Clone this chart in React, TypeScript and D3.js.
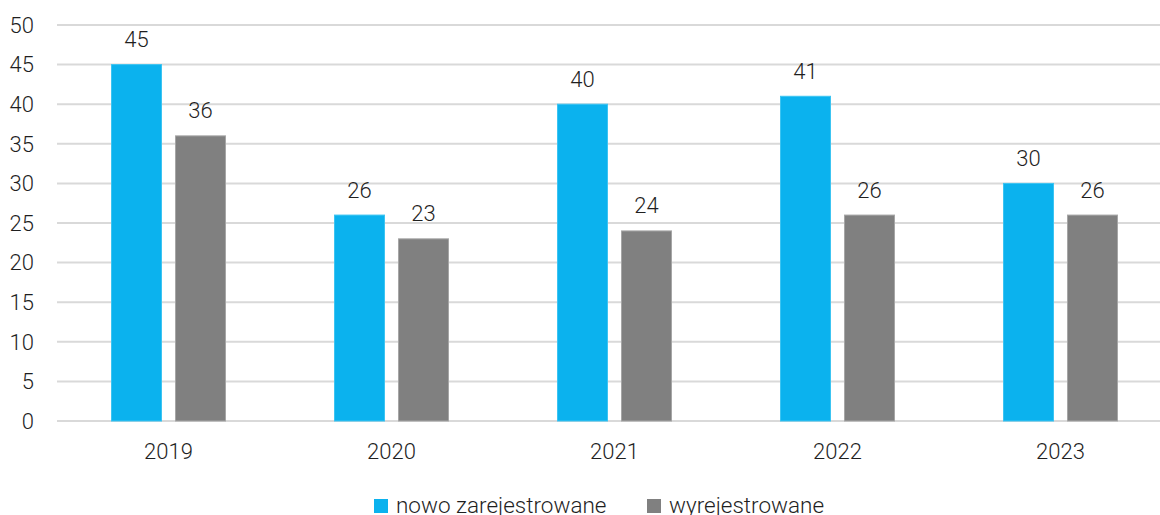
import React from "react";
import * as d3 from "d3";

const years = ["2019", "2020", "2021", "2022", "2023"];
const seriesNames = ["nowo zarejestrowane", "wyrejestrowane"];
const nowoZarejestrowane = [45, 26, 40, 41, 30];
const wyrejestrowane = [36, 23, 24, 26, 26];
const yTicks = [0, 5, 10, 15, 20, 25, 30, 35, 40, 45, 50];
const colors = ["#0BB2EE", "#808080"];
const strokes = ["#3cc4f2", "#a6a6a6"];

const W = 1160;
const H = 515;
const FONT = "Roboto, 'Liberation Sans', sans-serif";
const TXT = "#1f1f1f";

export default function App() {
  const y = d3.scaleLinear().domain([0, 50]).range([421, 25]);
  const x0 = d3.scaleBand<string>().domain(years).range([57, 1172]).padding(0);
  const inner = 114;
  const x1 = d3
    .scaleBand<string>()
    .domain(seriesNames)
    .range([0, inner])
    .paddingInner(14 / 64)
    .paddingOuter(0);
  const offset = (x0.bandwidth() - inner) / 2;
  const values = [nowoZarejestrowane, wyrejestrowane];

  return (
    <svg
      width={W}
      height={H}
      style={{ position: "absolute", left: 0, top: 0, background: "#fff" }}
      fontFamily={FONT}
    >
      {yTicks.map((t) => (
        <g key={t}>
          <line x1={57} x2={W} y1={y(t)} y2={y(t)} stroke="#d9d9d9" strokeWidth={2} />
          <text
            x={34}
            y={y(t) + 7.7}
            textAnchor="end"
            fontSize={22}
            fontWeight={300}
            fill={TXT}
          >
            {t}
          </text>
        </g>
      ))}
      {years.map((yr, i) => (
        <g key={yr} transform={`translate(${x0(yr)! + offset},0)`}>
          {seriesNames.map((s, j) => {
            const v = values[j][i];
            const bx = x1(s)!;
            return (
              <g key={s}>
                <rect
                  x={bx}
                  y={y(v)}
                  width={x1.bandwidth()}
                  height={y(0) - y(v)}
                  fill={colors[j]}
                  stroke={strokes[j]}
                  strokeWidth={1}
                />
                <text
                  x={bx + x1.bandwidth() / 2}
                  y={y(v) - 17.5}
                  textAnchor="middle"
                  fontSize={22}
                  fontWeight={300}
                  fill={TXT}
                >
                  {v}
                </text>
              </g>
            );
          })}
          <text
            x={inner / 2}
            y={459}
            textAnchor="middle"
            fontSize={22}
            fontWeight={300}
            fill={TXT}
          >
            {yr}
          </text>
        </g>
      ))}
      {seriesNames.map((s, j) => {
        const lx = [374, 647][j];
        return (
          <g key={s}>
            <rect x={lx} y={499} width={14} height={14} fill={colors[j]} />
            <text x={lx + 22} y={512.5} fontSize={22.5} fontWeight={300} fill={TXT}>
              {s}
            </text>
          </g>
        );
      })}
    </svg>
  );
}
